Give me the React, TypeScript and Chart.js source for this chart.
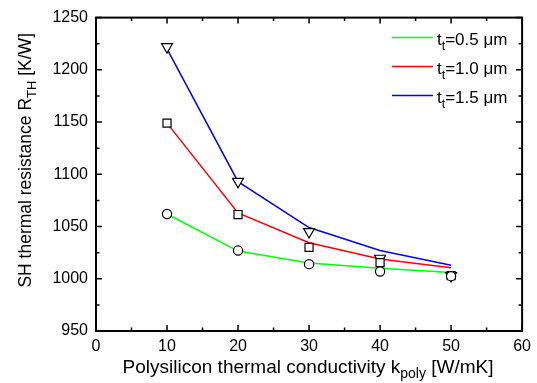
import { useEffect, useRef } from 'react';
import { Chart, registerables } from 'chart.js';

Chart.register(...registerables);

// Polysilicon thermal conductivity k_poly [W/mK]
const conductivity = [10, 20, 30, 40, 50];

// Model curves, SH thermal resistance [K/W]
const modelHalf = [1062, 1026.5, 1015, 1010, 1006];
const modelOne = [1149, 1063, 1034.5, 1019, 1010.5];
const modelOneHalf = [1220, 1093, 1049, 1027, 1013];

// Simulated points, SH thermal resistance [K/W]
const simHalf = [1062, 1027, 1014, 1007, 1002.5];
const simOne = [1149, 1061.5, 1030, 1015.5, 1003];
const simOneHalf = [1222, 1093, 1045, 1019.5, 1003];

const legendValues = ['=0.5 μm', '=1.0 μm', '=1.5 μm'];
const seriesColors = ['#00ff00', '#ff0000', '#0000ff'];

const FONT = '"Liberation Sans", Arial, sans-serif';

type Part = { text: string; sub?: boolean };

function measureRich(ctx: CanvasRenderingContext2D, parts: Part[], size: number, subSize: number) {
  let total = 0;
  for (const p of parts) {
    ctx.font = `${p.sub ? subSize : size}px ${FONT}`;
    total += ctx.measureText(p.text).width;
  }
  return total;
}

function drawRich(
  ctx: CanvasRenderingContext2D,
  parts: Part[],
  x: number,
  y: number,
  size: number,
  subSize: number,
  align: 'left' | 'center' | 'right'
) {
  const total = measureRich(ctx, parts, size, subSize);
  let cx = align === 'center' ? x - total / 2 : align === 'right' ? x - total : x;
  ctx.textBaseline = 'alphabetic';
  ctx.textAlign = 'left';
  for (const p of parts) {
    ctx.font = `${p.sub ? subSize : size}px ${FONT}`;
    ctx.fillText(p.text, cx, p.sub ? y + size * 0.28 : y);
    cx += ctx.measureText(p.text).width;
  }
}

const pts = (ys: number[]) => conductivity.map((x, i) => ({ x, y: ys[i] }));

const framePlugin = {
  id: 'frameAndText',
  afterDraw(chart: any) {
    const { ctx, chartArea } = chart;
    const { left, right, top, bottom } = chartArea;
    const xs = chart.scales.x;
    const ys = chart.scales.y;
    ctx.save();
    ctx.strokeStyle = '#000';
    ctx.lineWidth = 2;
    ctx.strokeRect(left, top, right - left, bottom - top);

    ctx.lineWidth = 1.5;
    ctx.beginPath();
    for (let v = 0; v <= 60; v += 5) {
      const px = xs.getPixelForValue(v);
      const len = v % 10 === 0 ? 6 : 3.5;
      ctx.moveTo(px, bottom);
      ctx.lineTo(px, bottom - len);
      ctx.moveTo(px, top);
      ctx.lineTo(px, top + len);
    }
    for (let v = 950; v <= 1250; v += 25) {
      const py = ys.getPixelForValue(v);
      const len = v % 50 === 0 ? 6 : 3.5;
      ctx.moveTo(left, py);
      ctx.lineTo(left + len, py);
      ctx.moveTo(right, py);
      ctx.lineTo(right - len, py);
    }
    ctx.stroke();

    ctx.fillStyle = '#000';
    // x-axis title
    drawRich(
      ctx,
      [
        { text: 'Polysilicon thermal conductivity k' },
        { text: 'poly', sub: true },
        { text: ' [W/mK]' },
      ],
      (left + right) / 2 - 1,
      373,
      19,
      14,
      'center'
    );
    // y-axis title, read bottom to top, ending near the top of the frame
    ctx.save();
    ctx.translate(31, 33);
    ctx.rotate(-Math.PI / 2);
    drawRich(
      ctx,
      [
        { text: 'SH thermal resistance R' },
        { text: 'TH', sub: true },
        { text: ' [K/W]' },
      ],
      0,
      0,
      17.5,
      13,
      'right'
    );
    ctx.restore();

    // legend
    const rows = [37.5, 66.5, 95.5];
    rows.forEach((ly, i) => {
      ctx.strokeStyle = seriesColors[i];
      ctx.lineWidth = 1.5;
      ctx.beginPath();
      ctx.moveTo(392, ly);
      ctx.lineTo(433, ly);
      ctx.stroke();
      ctx.fillStyle = '#000';
      drawRich(ctx, [{ text: 't' }, { text: 't', sub: true }, { text: legendValues[i] }], 437, ly + 7.5, 17, 12.5, 'left');
    });
    ctx.restore();
  },
};

export default function App() {
  const ref = useRef<HTMLCanvasElement | null>(null);

  useEffect(() => {
    if (!ref.current) return;
    const lineDs = (ys: number[], color: string, order: number) => ({
      data: pts(ys),
      showLine: true,
      borderColor: color,
      borderWidth: 1.5,
      pointRadius: 0,
      fill: false,
      tension: 0,
      order,
    });
    const markDs = (ys: number[], style: string, radius: number, order: number, rotation = 0) => ({
      data: pts(ys),
      showLine: false,
      pointStyle: style,
      pointRadius: radius,
      pointRotation: rotation,
      pointBorderColor: '#000',
      pointBackgroundColor: '#fff',
      pointBorderWidth: 1.2,
      borderColor: '#000',
      backgroundColor: '#fff',
      order,
    });

    const chart = new Chart(ref.current, {
      type: 'scatter',
      data: {
        datasets: [
          markDs(simHalf, 'circle', 4.6, 0),
          markDs(simOne, 'rect', 5.7, 1),
          markDs(simOneHalf, 'triangle', 6.3, 2, 180),
          lineDs(modelHalf, seriesColors[0], 3),
          lineDs(modelOne, seriesColors[1], 4),
          lineDs(modelOneHalf, seriesColors[2], 5),
        ] as any,
      },
      options: {
        responsive: false,
        animation: false,
        layout: { padding: { top: 14, right: 12, left: 0, bottom: 0 } },
        plugins: {
          legend: { display: false },
          tooltip: { enabled: false },
          title: { display: false },
        },
        scales: {
          x: {
            type: 'linear',
            min: 0,
            max: 60,
            grid: { display: false, drawTicks: false },
            border: { display: false },
            ticks: {
              stepSize: 10,
              color: '#000',
              font: { size: 16, family: FONT },
              padding: 6,
              maxRotation: 0,
              callback: (v: any) => String(v),
            },
            afterFit: (s: any) => {
              s.height = 52;
            },
          },
          y: {
            type: 'linear',
            min: 950,
            max: 1250,
            grid: { display: false, drawTicks: false },
            border: { display: false },
            ticks: {
              stepSize: 50,
              color: '#000',
              font: { size: 16, family: FONT },
              padding: 8,
              callback: (v: any) => String(v),
            },
            afterFit: (s: any) => {
              s.width = 96;
            },
          },
        },
      },
      plugins: [framePlugin],
    });
    return () => chart.destroy();
  }, []);

  return (
    <div style={{ position: 'absolute', left: 0, top: 0, width: 537, height: 383, background: '#fff' }}>
      <canvas ref={ref} width={537} height={383} />
    </div>
  );
}
